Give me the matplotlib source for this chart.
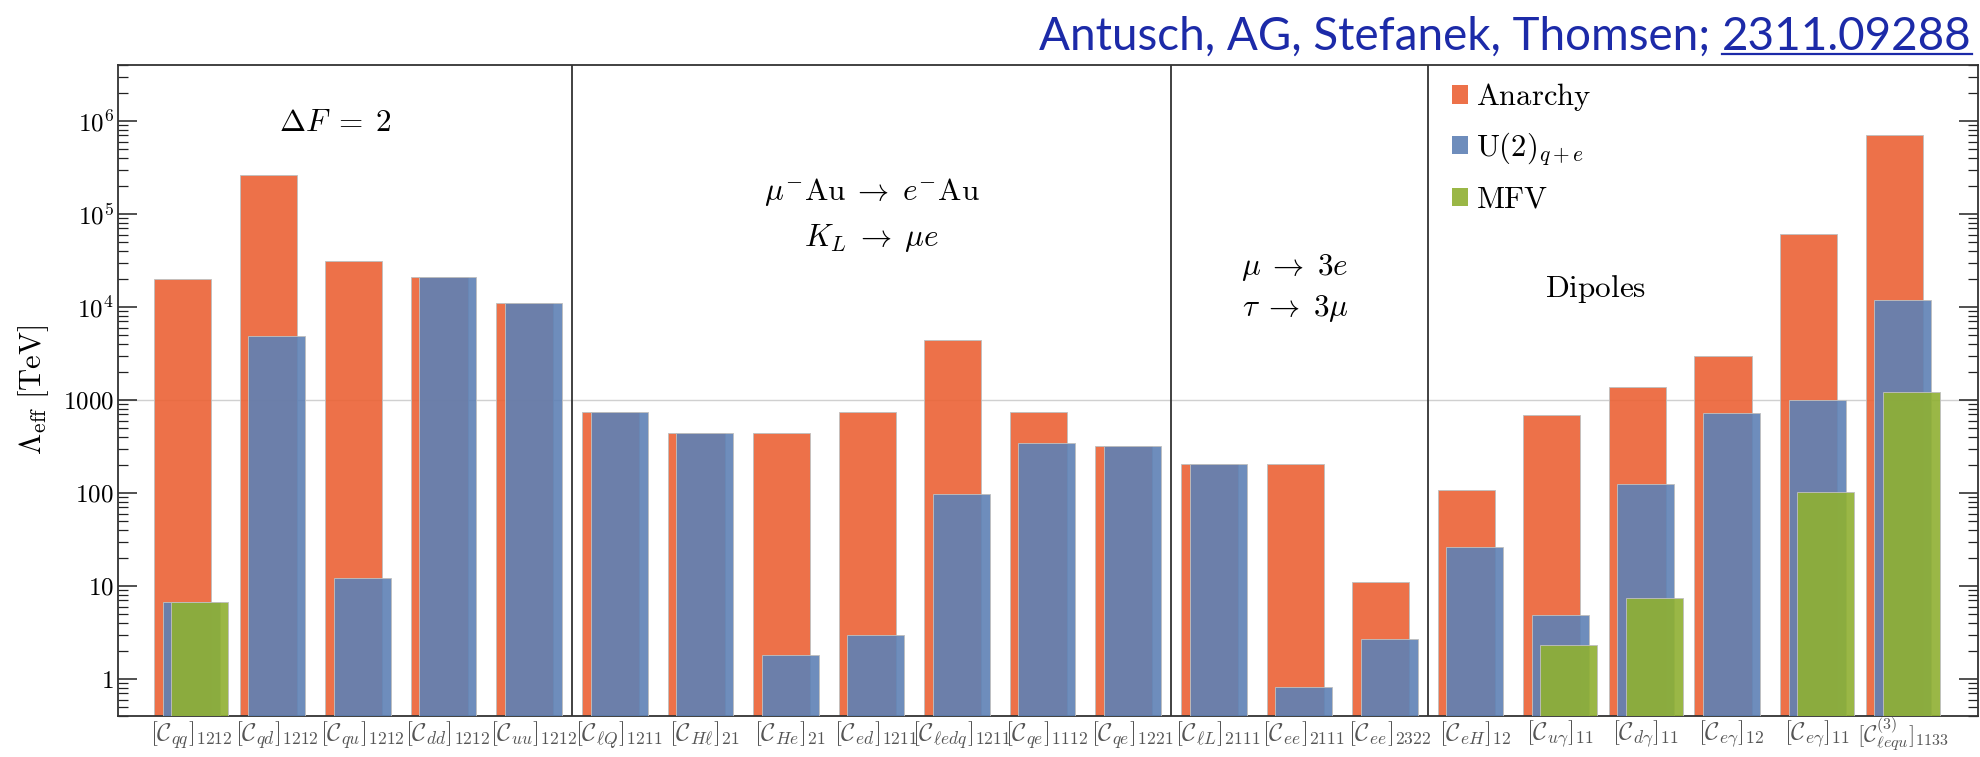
import numpy as np
import matplotlib
matplotlib.use("Agg")
import matplotlib.pyplot as plt
from matplotlib.patches import Patch
from matplotlib.lines import Line2D
from matplotlib.ticker import FixedLocator, FuncFormatter, NullFormatter

plt.rcParams["mathtext.fontset"] = "cm"
plt.rcParams["font.family"] = ["DejaVu Serif"]
plt.rcParams["axes.unicode_minus"] = False

# ---- data -------------------------------------------------------------
operators = [
    r"$[\mathcal{C}_{qq}]_{1212}$", r"$[\mathcal{C}_{qd}]_{1212}$",
    r"$[\mathcal{C}_{qu}]_{1212}$", r"$[\mathcal{C}_{dd}]_{1212}$",
    r"$[\mathcal{C}_{uu}]_{1212}$", r"$[\mathcal{C}_{\ell Q}]_{1211}$",
    r"$[\mathcal{C}_{H\ell}]_{21}$", r"$[\mathcal{C}_{He}]_{21}$",
    r"$[\mathcal{C}_{ed}]_{1211}$", r"$[\mathcal{C}_{\ell edq}]_{1211}$",
    r"$[\mathcal{C}_{qe}]_{1112}$", r"$[\mathcal{C}_{qe}]_{1221}$",
    r"$[\mathcal{C}_{\ell L}]_{2111}$", r"$[\mathcal{C}_{ee}]_{2111}$",
    r"$[\mathcal{C}_{ee}]_{2322}$", r"$[\mathcal{C}_{eH}]_{12}$",
    r"$[\mathcal{C}_{u\gamma}]_{11}$", r"$[\mathcal{C}_{d\gamma}]_{11}$",
    r"$[\mathcal{C}_{e\gamma}]_{12}$", r"$[\mathcal{C}_{e\gamma}]_{11}$",
    r"$[\mathcal{C}^{(3)}_{\ell equ}]_{1133}$",
]

# Lambda_eff bounds in TeV (nan = no bound shown)
anarchy = [2.0e4, 2.63e5, 3.16e4, 2.1e4, 1.1e4, 738, 442, 442, 738, 4370,
           738, 320, 204, 204, 11.1, 108, 690, 1390, 2970, 6.05e4, 7.14e5]
u2_qe = [6.8, 4880, 12.1, 2.1e4, 1.1e4, 738, 442, 1.8, 3.0, 98.6,
         345, 320, 204, 0.83, 2.72, 26, 4.88, 126, 719, 1010, 1.18e4]
mfv = [6.8, np.nan, np.nan, np.nan, np.nan, np.nan, np.nan, np.nan, np.nan,
       np.nan, np.nan, np.nan, np.nan, np.nan, np.nan, np.nan, 2.34, 7.38,
       np.nan, 102.6, 1219]

series_names = [r"$\mathrm{Anarchy}$", r"$\mathrm{U}(2)_{q+e}$", r"$\mathrm{MFV}$"]
series_colors = ["#eb6235", "#5e81b5", "#8fb032"]

# y-axis ticks
major_ticks = [1, 10, 100, 1000, 1e4, 1e5, 1e6]

# process groups: boundaries after these operator indices
group_edges = [4, 11, 14]
group_titles = [
    (1.68, 9.7e5, r"$\Delta F \;=\; 2$"),
    (7.95, 1.71e5, r"$\mu^{-}\mathrm{Au} \;\rightarrow\; e^{-}\mathrm{Au}$"),
    (7.95, 5.5e4, r"$K_L \;\rightarrow\; \mu e$"),
    (12.9, 2.67e4, r"$\mu \;\rightarrow\; 3e$"),
    (12.9, 9.7e3, r"$\tau \;\rightarrow\; 3\mu$"),
    (16.41, 1.58e4, r"$\mathrm{Dipoles}$"),
]

# ---- figure -----------------------------------------------------------
W, H = 1981, 757
fig = plt.figure(figsize=(W / 100, H / 100), dpi=100)
ax = fig.add_axes([118 / W, 1 - 716 / H, (1978 - 118) / W, (716 - 65) / H])
ax.set_yscale("log")

x = np.arange(len(operators))
bar_w = 2 / 3
shift = 0.1
base = 1e-2
for k, (vals, col) in enumerate(zip([anarchy, u2_qe, mfv], series_colors)):
    v = np.asarray(vals, dtype=float)
    m = ~np.isnan(v)
    ax.bar(x[m] + (k - 1) * shift, v[m] - base, bottom=base, width=bar_w,
           color=col, alpha=0.9, edgecolor=(0.75, 0.75, 0.75, 0.5),
           linewidth=0.7, zorder=2 + k)

ax.axhline(1000, color="#d0d0d0", lw=1.0, zorder=1)
for e in group_edges:
    ax.axvline(e + 0.45, color="#333333", lw=1.3, zorder=6)

for gx, gy, txt in group_titles:
    ax.text(gx, gy, txt, ha="center", va="center", fontsize=22.5, zorder=7)

ax.set_xlim(-0.855, 20.88)
ax.set_ylim(0.4, 4e6)

ax.xaxis.set_major_locator(FixedLocator(x))
ax.set_xticklabels(operators)
ax.tick_params(axis="x", length=0, labelsize=18, labelcolor="#555555", pad=2)
# the last operator carries a superscript, keep it inside the canvas
last_tick = ax.xaxis.get_major_ticks()[-1]
last_tick.set_pad(-0.5)
last_tick.label1.set_fontsize(16.5)

minor_ticks = [m * 10.0 ** p for p in range(-1, 7) for m in range(2, 10)
               if 0.4 <= m * 10.0 ** p <= 4e6]
ax.yaxis.set_major_locator(FixedLocator(major_ticks))
ax.yaxis.set_minor_locator(FixedLocator(minor_ticks))
ax.yaxis.set_minor_formatter(NullFormatter())


def ylab(v, pos):
    p = int(round(np.log10(v)))
    if p >= 4:
        return r"$10^{%d}$" % p
    return r"$%d$" % int(round(v))


ax.yaxis.set_major_formatter(FuncFormatter(ylab))
ax.tick_params(axis="y", which="both", direction="in", left=True, right=True,
               labelsize=18, color="#222222")
ax.tick_params(axis="y", which="major", length=13.7, width=1.1, pad=3)
ax.tick_params(axis="y", which="minor", length=7.2, width=0.9)

for s in ax.spines.values():
    s.set_color("#333333")
    s.set_linewidth(1.3)

ax.set_ylabel(r"$\Lambda_{\mathrm{eff}}\ [\mathrm{TeV}]$", fontsize=22)
ax.yaxis.set_label_coords(-0.036, 0.5)

handles = [Patch(facecolor=c, alpha=0.9, edgecolor="none") for c in series_colors]
ax.legend(handles, series_names, loc="upper left", bbox_to_anchor=(0.717, 0.975),
          frameon=False, fontsize=22, handlelength=0.55, handleheight=0.55,
          handletextpad=0.25, labelspacing=0.55, borderpad=0, borderaxespad=0)

# ---- reference line at the top right ------------------------------------
ref_color = "#1c2aa8"
authors = "Antusch, AG, Stefanek, Thomsen; "
arxiv = "2311.09288"
renderer = fig.canvas.get_renderer()
probe = fig.text(0, 0, authors + arxiv, fontsize=30, family="Lato")
w_probe = probe.get_window_extent(renderer).width
probe.remove()
fs = 30 * 931 / w_probe

x_right, y_base = 1972, H - 50
t2 = fig.text(x_right / W, y_base / H, arxiv, ha="right", va="baseline",
              fontsize=fs, family="Lato", color=ref_color)
bb = t2.get_window_extent(renderer)
fig.text(bb.x0 / W, y_base / H, authors, ha="right", va="baseline",
         fontsize=fs, family="Lato", color=ref_color)
fig.add_artist(Line2D([bb.x0 / W, bb.x1 / W], [(y_base - 4) / H] * 2,
                      transform=fig.transFigure, color=ref_color, lw=1.6))

fig.savefig("out.png", dpi=100)
